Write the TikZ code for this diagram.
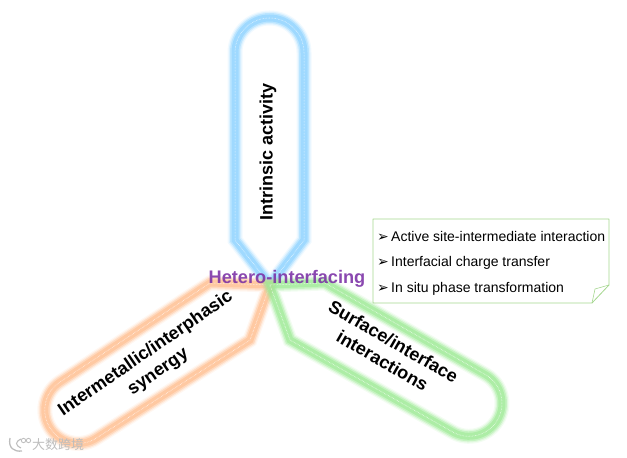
\documentclass[tikz,border=0pt]{standalone}
\usepackage{fontspec}
\setmainfont{Liberation Sans}
\newfontfamily\symfont{DejaVu Sans}
\newfontfamily\cjkfont{Noto Sans CJK SC}
\usepackage{xcolor}
\definecolor{lobeblue}{HTML}{8CD2FF}
\definecolor{lobeorange}{HTML}{FFBE90}
\definecolor{lobegreen}{HTML}{9DEA95}
\definecolor{notegreen}{HTML}{A4D68E}
\definecolor{heteropurple}{HTML}{7A2FA5}
\definecolor{markgrey}{HTML}{BDBDBD}
\tikzset{
	glow/.style={line join=round,
		preaction={draw=#1,opacity=0.12,line width=15pt},
		preaction={draw=#1,opacity=0.22,line width=12.5pt},
		preaction={draw=#1,opacity=0.4,line width=10pt},
		preaction={draw=#1,opacity=0.6,line width=7pt},
		draw=white,densely dotted,line width=0.5pt},
	lobelabel/.style={font=\fontsize{18}{22}\selectfont\bfseries,align=center},
	noteitem/.style={font=\fontsize{14}{16}\selectfont,anchor=base west,inner sep=0pt},
	notebullet/.style={font=\fontsize{14}{16}\selectfont\symfont,anchor=base,inner sep=0pt}
}
\begin{document}
\begin{tikzpicture}[x=1pt,y=1pt]
	\useasboundingbox (0,0) rectangle (627,458);
	\draw[glow=lobeblue] (270,173)--(235,218)--(235,405.5) arc[start angle=180,end angle=0,radius=34.5]--(304,218)--cycle;
	\draw[glow=lobeorange] (270,173)--(210,175)--(60,76) arc[start angle=123,end angle=303,radius=33.4]--(250,118)--cycle;
	\draw[glow=lobegreen] (270,173)--(325,175)--(486,83) arc[start angle=59,end angle=-121,radius=33]--(290,118)--cycle;
	\node[font=\fontsize{18.2}{22}\selectfont\bfseries,text=heteropurple,text opacity=0.88] (hetero) at (287,179) {Hetero-interfacing};
	\node[lobelabel,rotate=90] (intrinsic) at (268,306) {Intrinsic activity};
	\node[lobelabel,rotate=34.5] (synergy) at (152,95) {Intermetallic/interphasic\\synergy};
	\node[lobelabel,rotate=-30] (surface) at (388,107) {Surface/interface\\interactions};
	\draw[notegreen,line width=0.8pt,line join=round] (373,239)--(609,239)--(609,173)--(592,155)--(373,155)--cycle;
	\draw[notegreen,line width=0.6pt] (592,155)--(595,169)--(609,173);
	\node[notebullet] (bulletA) at (383,216) {➢};
	\node[notebullet] (bulletB) at (383,191) {➢};
	\node[notebullet] (bulletC) at (383,165.5) {➢};
	\node[noteitem] (itemA) at (391,216) {Active site-intermediate interaction};
	\node[noteitem] (itemB) at (391,191) {Interfacial charge transfer};
	\node[noteitem] (itemC) at (391,165.5) {In situ phase transformation};
	\node[font=\fontsize{13}{15}\selectfont\cjkfont,text=markgrey] (mark) at (58,13) {大数跨境};
	\draw[markgrey,line width=1.3pt] (10,20) .. controls (8,10) and (14,6) .. (22,7);
	\draw[markgrey,line width=1.1pt] (21,19) .. controls (15,16) and (15,13) .. (21,10);
	\draw[markgrey,line width=0.8pt] (23.5,17.5) circle[radius=2.2];
	\draw[markgrey,line width=0.8pt] (28.5,17.5) circle[radius=2.2];
\end{tikzpicture}
\end{document}
